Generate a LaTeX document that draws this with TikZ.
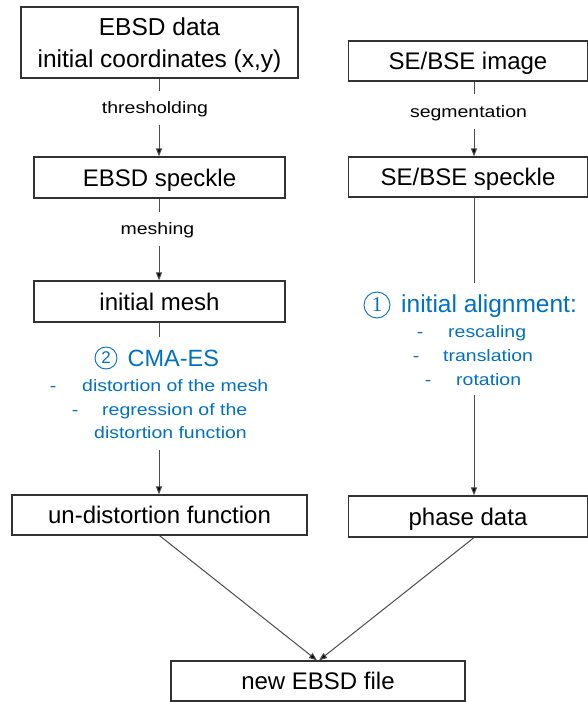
\documentclass[tikz,border=0pt]{standalone}
\usepackage{fontspec}
\setmainfont{Liberation Sans}
\newfontfamily\lblfont[FakeStretch=1.18]{Liberation Sans}
\newfontfamily\digitfont{Liberation Serif}
\usetikzlibrary{arrows.meta,calc}
\definecolor{stepblue}{RGB}{0,112,192}
\definecolor{edgegray}{RGB}{50,50,50}
\tikzset{
  box/.style={draw=edgegray, line width=1.2pt, inner sep=0pt, align=center,
              text depth=0pt, font=\fontsize{24}{32}\selectfont},
  lbl/.style={inner sep=0pt, text depth=0pt, font=\lblfont\fontsize{16.5}{20}\selectfont},
  bluetxt/.style={inner sep=0pt, text=stepblue, anchor=base west,
              font=\lblfont\fontsize{16.5}{20}\selectfont},
  bluedash/.style={inner sep=0pt, text=stepblue, anchor=base,
              font=\lblfont\fontsize{16.5}{20}\selectfont},
  bluehead/.style={inner sep=0pt, text=stepblue, anchor=base west,
              font=\fontsize{23.5}{28}\selectfont},
  numcirc/.style={circle, draw=stepblue, line width=0.9pt, inner sep=0pt,
              text=stepblue, text depth=0pt, font=\fontsize{19}{19}\selectfont},
  conn/.style={draw=black!70, line width=1pt},
  arr/.style={conn, -{Triangle[length=8pt,width=6pt,fill=black]}},
}
\begin{document}
\begin{tikzpicture}[x=1pt,y=-1pt]
\useasboundingbox (0,0) rectangle (588,702);
% column lines
\coordinate (lc) at (159,0);
\coordinate (rc) at (474,0);
% boxes
\node[box, minimum width=277, minimum height=71, font=\fontsize{24.5}{32}\selectfont] (b1) at (159.5,42.5) {EBSD data\\initial coordinates (x,y)};
\node[box, minimum width=239, minimum height=40] (b2) at (468,61) {SE/BSE image};
\node[box, minimum width=251, minimum height=41] (b3) at (159.5,177.5) {EBSD speckle};
\node[box, minimum width=239, minimum height=40] (b4) at (468,177) {SE/BSE speckle};
\node[box, minimum width=251, minimum height=41] (b5) at (159.5,301.5) {initial mesh};
\node[box, minimum width=295, minimum height=40] (b6) at (159.5,515) {un-distortion function};
\node[box, minimum width=239, minimum height=41] (b7) at (468,516.5) {phase data};
\node[box, minimum width=294, minimum height=40] (b8) at (318,681) {new EBSD file};
% labels
\node[lbl, minimum height=33] (thr) at (155,108) {thresholding};
\node[lbl, minimum height=33] (msh) at (157.5,229) {meshing};
\node[lbl, minimum height=34] (seg) at (468.5,111.5) {segmentation};
% blue text left
\node[numcirc, minimum size=22, font=\fontsize{17}{17}\selectfont] (c2) at (106,358) {2};
\node[bluehead] (cma) at (127.5,366) {CMA-ES};
\node[bluedash] (d1) at (53,391.7) {-};
\node[bluetxt] (t1) at (82,391.7) {distortion of the mesh};
\node[bluedash] (d2) at (75,415.2) {-};
\node[bluetxt] (t2) at (102,415.2) {regression of the};
\node[bluetxt] (t3) at (94,438.7) {distortion function};
% blue text right
\node[numcirc, minimum size=26, font=\digitfont\fontsize{21}{21}\selectfont] (c1) at (377,305) {1};
\node[bluehead, font=\fontsize{24.5}{28}\selectfont] (ali) at (401,312.5) {initial alignment:};
\node[bluedash] (d3) at (420,337.7) {-};
\node[bluetxt] (r1) at (448,337.7) {rescaling};
\node[bluedash] (d4) at (416,361.4) {-};
\node[bluetxt] (r2) at (443,361.4) {translation};
\node[bluedash] (d5) at (428,385) {-};
\node[bluetxt] (r3) at (456,385) {rotation};
% gap ends around blue text
\coordinate (ltop) at (159,337);
\coordinate (lbot) at (159,450);
\coordinate (rtop) at (474,283);
\coordinate (rbot) at (474,395);
% connectors
\draw[conn] (b1.south -| lc) -- (thr.north -| lc);
\draw[arr] (thr.south -| lc) -- (b3.north -| lc);
\draw[conn] (b3.south -| lc) -- (msh.north -| lc);
\draw[arr] (msh.south -| lc) -- (b5.north -| lc);
\draw[conn] (b5.south -| lc) -- (ltop);
\draw[arr] (lbot) -- (b6.north -| lc);
\draw[conn] (b2.south -| rc) -- (seg.north -| rc);
\draw[arr] (seg.south -| rc) -- (b4.north -| rc);
\draw[conn] (b4.south -| rc) -- (rtop);
\draw[arr] (rbot) -- (b7.north -| rc);
\draw[arr] (b6.south) -- ($(b8.north)+(-1,0)$);
\draw[arr] (b7.south -| rc) -- ($(b8.north)+(1,0)$);
\end{tikzpicture}
\end{document}
